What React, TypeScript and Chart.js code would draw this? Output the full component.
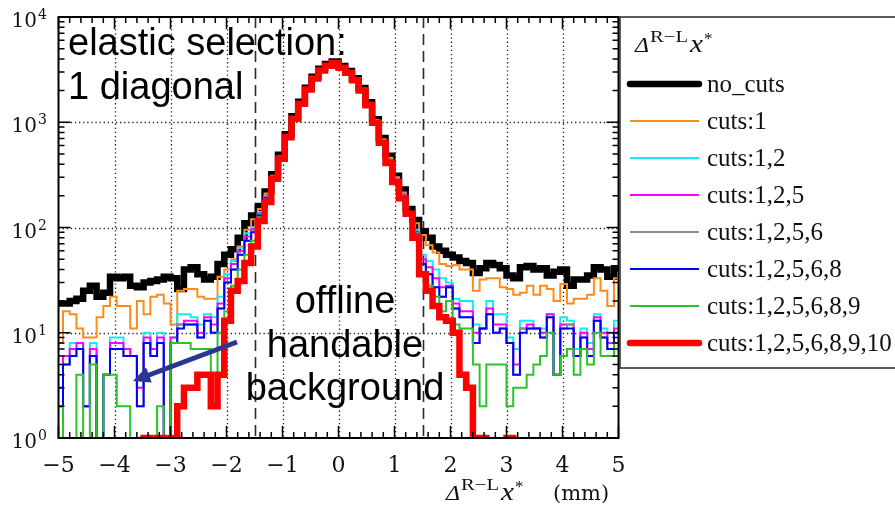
import { useEffect, useRef } from "react";
import { Chart, registerables } from "chart.js";

Chart.register(...registerables);

// Histogram binning: 0.12 mm bins, first edge at -5.04 mm
const BIN_START = -5.04;
const BIN_WIDTH = 0.12;

const X_MIN = -5;
const X_MAX = 5;
const Y_MIN = 1;
const Y_MAX = 10000;
const X_TICKS = [-5, -4, -3, -2, -1, 0, 1, 2, 3, 4, 5];
const Y_DECADES = [0, 1, 2, 3, 4];
const CUT_WINDOW = [-1.5, 1.5];

// Empty bins are drawn below the frame (clipped away on the log axis)
const EMPTY_BIN = 0.1;

const noCuts = [
  19, 19, 20, 21, 25, 28, 22, 24, 34, 33, 34, 28,
  27, 30, 31, 32, 34, 33, 26, 40, 42, 36, 32, 34,
  45, 55, 62, 80, 110, 130, 160, 220, 320, 490, 770, 1140,
  1570, 2130, 2700, 3220, 3580, 3780, 3420, 3070, 2620, 2110, 1550, 1070,
  710, 480, 310, 230, 150, 118, 92, 80, 66, 60, 55, 52,
  48, 46, 37, 41, 46, 44, 41, 35, 33, 42, 43, 40,
  41, 35, 38, 40, 28, 32, 32, 35, 42, 40, 34, 41,
];

const cuts1 = [
  8, 16, 15, 11, 9, 9, 14, 18, 22, 18, 18, 11,
  20, 15, 22, 23, 19, 12, 25, 26, 26, 22, 21, 21,
  34, 40, 50, 66, 95, 120, 150, 210, 310, 475, 750, 1120,
  1550, 2110, 2680, 3200, 3560, 3760, 3400, 3050, 2600, 2090, 1530, 1050,
  690, 460, 300, 215, 140, 110, 85, 68, 58, 45, 43, 44,
  40, 40, 25, 32, 33, 33, 27, 26, 23, 24, 28, 23,
  28, 26, 20, 29, 19, 21, 21, 23, 33, 25, 18, 33,
];

const cuts12 = [
  3, 6, 8, 8, 2, 8, 0, 4, 9, 9, 7, 6,
  3, 10, 7, 10, 0, 9, 15, 15, 14, 12, 15, 14,
  22, 36, 48, 64, 88, 100, 140, 200, 300, 465, 740, 1100,
  1530, 2090, 2650, 3160, 3520, 3720, 3360, 3010, 2560, 2050, 1500, 1030,
  670, 440, 290, 205, 138, 95, 55, 48, 40, 33, 30, 21,
  20, 20, 12, 11, 20, 15, 15, 9, 7, 13, 13, 11,
  11, 15, 4, 14, 13, 7, 11, 8, 15, 11, 10, 13,
];

const cuts125 = [
  3, 6, 7, 8, 2, 7, 0, 4, 8, 8, 7, 6,
  3, 9, 7, 9, 0, 9, 12, 13, 13, 10, 14, 12,
  19, 33, 45, 60, 82, 96, 136, 196, 298, 460, 735, 1095,
  1525, 2085, 2645, 3155, 3515, 3715, 3355, 3005, 2555, 2045, 1495, 1025,
  665, 436, 287, 202, 136, 90, 50, 42, 33, 27, 28, 19,
  16, 16, 10, 11, 17, 12, 12, 8, 5, 11, 12, 11,
  10, 15, 4, 12, 12, 6, 10, 7, 14, 10, 8, 11,
];

const cuts1256 = [
  2, 5, 6, 7, 2, 6, 0, 4, 7, 7, 6, 6,
  2, 8, 6, 8, 0, 8, 12, 12, 12, 9, 13, 10,
  17, 30, 40, 55, 75, 92, 132, 192, 294, 455, 730, 1090,
  1520, 2080, 2640, 3150, 3510, 3710, 3350, 3000, 2550, 2040, 1490, 1020,
  660, 432, 284, 200, 135, 88, 45, 36, 27, 22, 27, 17,
  14, 14, 8, 11, 15, 10, 11, 8, 4, 11, 11, 11,
  9, 14, 4, 11, 12, 6, 9, 6, 13, 9, 7, 10,
];

const cuts12568 = [
  2, 5, 6, 7, 2, 6, 0, 4, 7, 7, 6, 6,
  2, 8, 6, 8, 0, 8, 11, 12, 12, 9, 13, 10,
  17, 30, 40, 55, 75, 90, 130, 190, 293, 454, 728, 1088,
  1518, 2078, 2638, 3148, 3508, 3708, 3348, 2998, 2548, 2038, 1488, 1018,
  658, 430, 283, 199, 135, 86, 45, 36, 27, 22, 27, 17,
  14, 14, 8, 11, 15, 10, 11, 8, 4, 10, 11, 11,
  9, 14, 4, 11, 11, 6, 9, 6, 13, 9, 7, 10,
];

const cuts125689 = [
  2, 0, 0, 4, 0, 5, 0, 4, 4, 2, 2, 0,
  0, 1, 0, 2, 0, 8, 8, 8, 7, 7, 7, 4,
  10, 16, 28, 40, 55, 75, 125, 185, 292, 452, 725, 1085,
  1510, 2070, 2630, 3130, 3490, 3690, 3330, 2980, 2530, 2020, 1470, 1000,
  650, 420, 280, 195, 135, 84, 38, 28, 22, 16, 20, 12,
  11, 11, 5, 2, 5, 5, 5, 2, 3, 3, 4, 5,
  6, 10, 4, 6, 7, 4, 7, 5, 10, 6, 6, 8,
];

const cuts12568910 = [
  0, 0, 0, 0, 0, 0, 0, 0, 0, 0, 0, 0,
  0, 1, 0, 1, 0, 1, 2, 3, 3, 4, 4, 2,
  4, 13, 25, 31, 46, 66, 115, 175, 290, 450, 720, 1080,
  1500, 2050, 2600, 3100, 3450, 3650, 3300, 2950, 2500, 2000, 1450, 990,
  640, 410, 270, 190, 135, 80, 36, 25, 18, 14, 13, 10,
  4, 3, 1, 1, 0, 0, 0, 1, 0, 0, 0, 0,
  0, 0, 0, 0, 0, 0, 0, 0, 0, 0, 0, 0,
];

const SERIES_LABELS = [
  "no_cuts",
  "cuts:1",
  "cuts:1,2",
  "cuts:1,2,5",
  "cuts:1,2,5,6",
  "cuts:1,2,5,6,8",
  "cuts:1,2,5,6,8,9",
  "cuts:1,2,5,6,8,9,10",
];
const SERIES_VALUES = [
  noCuts,
  cuts1,
  cuts12,
  cuts125,
  cuts1256,
  cuts12568,
  cuts125689,
  cuts12568910,
];
const SERIES_COLORS = [
  "#000000",
  "#ff8c1a",
  "#12eeee",
  "#ff00ff",
  "#8c8c8c",
  "#0000ff",
  "#2ac42a",
  "#ff0000",
];
const SERIES_WIDTHS = [6.5, 2, 2, 2, 2, 2, 2, 6.5];

const SANS = '"Liberation Sans", Arial, sans-serif';
const SERIF = '"Liberation Serif", "Times New Roman", serif';
const TICK_SERIF = '"DejaVu Serif", serif';

// Bin contents -> left-edge step points, closed with the last bin's right edge
function toSteps(values: number[]) {
  const pts = values.map((v, k) => ({
    x: BIN_START + k * BIN_WIDTH,
    y: v > 0 ? v : EMPTY_BIN,
  }));
  const last = values[values.length - 1];
  pts.push({ x: BIN_START + values.length * BIN_WIDTH, y: last > 0 ? last : EMPTY_BIN });
  return pts;
}

function stretchedText(ctx: CanvasRenderingContext2D, text: string, x: number, y: number, width: number) {
  const w = ctx.measureText(text).width;
  ctx.save();
  ctx.translate(x, y);
  ctx.scale(width / w, 1);
  ctx.fillText(text, 0, 0);
  ctx.restore();
}

// Δ^{R−L} x*
function drawDeltaSymbol(ctx: CanvasRenderingContext2D, x: number, y: number) {
  ctx.fillStyle = "#111";
  ctx.textAlign = "left";
  ctx.textBaseline = "alphabetic";
  ctx.font = `italic 21px ${SERIF}`;
  stretchedText(ctx, "Δ", x, y, 14);
  ctx.font = `16px ${SERIF}`;
  stretchedText(ctx, "R−L", x + 15, y - 10, 38);
  ctx.font = `italic 25px ${SERIF}`;
  stretchedText(ctx, "x", x + 55, y, 13);
  ctx.font = `17px ${SERIF}`;
  ctx.fillText("*", x + 69, y - 8);
}

const decorations = {
  id: "decorations",
  beforeDatasetsDraw(chart: any) {
    const { ctx, chartArea: a, scales } = chart;
    const xs = scales.x;
    const ys = scales.y;
    ctx.save();
    // dotted grid at major ticks
    ctx.strokeStyle = "#222";
    ctx.lineWidth = 1.3;
    ctx.setLineDash([1.3, 2.8]);
    ctx.beginPath();
    for (const t of X_TICKS) {
      if (t === X_MIN || t === X_MAX) continue;
      const px = Math.round(xs.getPixelForValue(t)) + 0.5;
      ctx.moveTo(px, a.top);
      ctx.lineTo(px, a.bottom);
    }
    for (const d of Y_DECADES) {
      const v = Math.pow(10, d);
      if (v <= Y_MIN || v >= Y_MAX) continue;
      const py = Math.round(ys.getPixelForValue(v)) + 0.5;
      ctx.moveTo(a.left, py);
      ctx.lineTo(a.right, py);
    }
    ctx.stroke();
    // dashed selection window
    ctx.strokeStyle = "#2a2a2a";
    ctx.lineWidth = 1.6;
    ctx.setLineDash([11, 6]);
    ctx.beginPath();
    for (const c of CUT_WINDOW) {
      const px = Math.round(xs.getPixelForValue(c)) + 0.5;
      ctx.moveTo(px, a.top);
      ctx.lineTo(px, a.bottom);
    }
    ctx.stroke();
    ctx.restore();
  },
  afterDraw(chart: any) {
    const { ctx, chartArea: a, scales } = chart;
    const xs = scales.x;
    const ys = scales.y;
    ctx.save();
    ctx.setLineDash([]);

    // frame
    ctx.strokeStyle = "#000";
    ctx.lineWidth = 2;
    ctx.strokeRect(a.left, a.top, a.right - a.left, a.bottom - a.top);

    // inward ticks on all four sides
    const MAJOR = 12;
    const MINOR = 6;
    ctx.lineWidth = 1.5;
    ctx.beginPath();
    for (let j = 0; j <= 50; j++) {
      const v = X_MIN + j * 0.2;
      const major = Math.abs(v - Math.round(v)) < 1e-6;
      const len = major ? MAJOR : MINOR;
      const px = xs.getPixelForValue(v);
      ctx.moveTo(px, a.bottom);
      ctx.lineTo(px, a.bottom - len);
      ctx.moveTo(px, a.top);
      ctx.lineTo(px, a.top + len);
    }
    for (let d = 0; d < 4; d++) {
      for (let m = 1; m <= 10; m++) {
        const v = m * Math.pow(10, d);
        const major = m === 1 || m === 10;
        const len = major ? MAJOR : MINOR;
        const py = ys.getPixelForValue(v);
        ctx.moveTo(a.left, py);
        ctx.lineTo(a.left + len, py);
        ctx.moveTo(a.right, py);
        ctx.lineTo(a.right - len, py);
      }
    }
    ctx.stroke();

    // tick labels
    ctx.fillStyle = "#111";
    ctx.textAlign = "center";
    ctx.textBaseline = "alphabetic";
    ctx.font = `22px ${TICK_SERIF}`;
    for (const t of X_TICKS) {
      const label = t < 0 ? `−${-t}` : `${t}`;
      ctx.fillText(label, xs.getPixelForValue(t), a.bottom + 34);
    }
    for (const d of Y_DECADES) {
      const py = ys.getPixelForValue(Math.pow(10, d));
      ctx.textAlign = "right";
      ctx.font = `20px ${TICK_SERIF}`;
      ctx.fillText("10", 37, py + 10);
      ctx.textAlign = "left";
      ctx.font = `14px ${TICK_SERIF}`;
      ctx.fillText(`${d}`, 38, py + 2);
    }

    // axis title
    drawDeltaSymbol(ctx, 446, a.bottom + 62);
    ctx.font = `21px ${TICK_SERIF}`;
    ctx.fillText("(mm)", 553, a.bottom + 62);

    // annotations
    ctx.fillStyle = "#000";
    ctx.font = `38px ${SANS}`;
    ctx.textAlign = "left";
    ctx.fillText("elastic selection:", 68, 55);
    ctx.fillText("1 diagonal", 68, 99);
    ctx.textAlign = "center";
    ctx.fillText("offline", 345, 313);
    ctx.fillText("handable", 345, 357);
    ctx.fillText("background", 345, 400);

    // arrow towards the background tail
    const x0 = 237, y0 = 342, x1 = 133, y1 = 381;
    const ang = Math.atan2(y1 - y0, x1 - x0);
    const head = 17, half = 8;
    ctx.strokeStyle = "#2b3592";
    ctx.fillStyle = "#2b3592";
    ctx.lineWidth = 5;
    ctx.beginPath();
    ctx.moveTo(x0, y0);
    ctx.lineTo(x1 - Math.cos(ang) * head * 0.8, y1 - Math.sin(ang) * head * 0.8);
    ctx.stroke();
    ctx.beginPath();
    ctx.moveTo(x1, y1);
    ctx.lineTo(
      x1 - Math.cos(ang) * head - Math.sin(ang) * half,
      y1 - Math.sin(ang) * head + Math.cos(ang) * half
    );
    ctx.lineTo(
      x1 - Math.cos(ang) * head + Math.sin(ang) * half,
      y1 - Math.sin(ang) * head - Math.cos(ang) * half
    );
    ctx.closePath();
    ctx.fill();

    // legend box
    const lx = 620, ly = 17, lw = 290, lh = 351;
    ctx.fillStyle = "#fff";
    ctx.fillRect(lx, ly, lw, lh);
    ctx.strokeStyle = "#333";
    ctx.lineWidth = 1.6;
    ctx.strokeRect(lx, ly, lw, lh);
    drawDeltaSymbol(ctx, 635, 52);
    SERIES_LABELS.forEach((label, i) => {
      const rowY = 84 + i * 37;
      ctx.strokeStyle = SERIES_COLORS[i];
      ctx.lineWidth = SERIES_WIDTHS[i];
      ctx.lineCap = SERIES_WIDTHS[i] > 3 ? "round" : "butt";
      ctx.beginPath();
      ctx.moveTo(630, rowY);
      ctx.lineTo(699, rowY);
      ctx.stroke();
      ctx.fillStyle = "#111";
      ctx.textAlign = "left";
      ctx.font = `25px ${SERIF}`;
      ctx.fillText(label, 707, rowY + 8);
    });
    ctx.restore();
  },
};

export default function App() {
  const canvasRef = useRef<HTMLCanvasElement | null>(null);

  useEffect(() => {
    document.body.style.margin = "0";
    const canvas = canvasRef.current;
    if (!canvas) return;
    const datasets = SERIES_VALUES.map((values, i) => ({
      label: SERIES_LABELS[i],
      data: toSteps(values),
      borderColor: SERIES_COLORS[i],
      backgroundColor: SERIES_COLORS[i],
      borderWidth: SERIES_WIDTHS[i],
      stepped: true,
      pointRadius: 0,
      fill: false,
      order: SERIES_VALUES.length - i,
    }));
    const chart = new Chart(canvas, {
      type: "line",
      data: { datasets },
      options: {
        animation: false,
        responsive: false,
        devicePixelRatio: 1,
        events: [],
        layout: { padding: { left: 58.5, right: 276.5, top: 17, bottom: 77 } },
        scales: {
          x: { type: "linear", min: X_MIN, max: X_MAX, display: false },
          y: { type: "logarithmic", min: Y_MIN, max: Y_MAX, display: false },
        },
        plugins: { legend: { display: false }, tooltip: { enabled: false } },
      },
      plugins: [decorations],
    } as any);
    return () => chart.destroy();
  }, []);

  return (
    <div style={{ width: 895, height: 515, background: "#fff" }}>
      <canvas ref={canvasRef} width={895} height={515} style={{ display: "block" }} />
    </div>
  );
}
